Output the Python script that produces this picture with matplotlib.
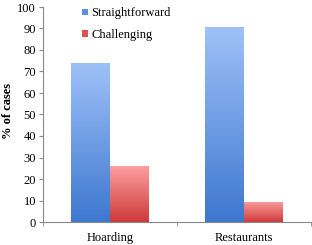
import matplotlib
matplotlib.use("Agg")
import matplotlib.pyplot as plt
import numpy as np
from matplotlib.colors import LinearSegmentedColormap
from matplotlib.patches import Patch

categories = ["Hoarding", "Restaurants"]
series_names = ["Straightforward", "Challenging"]
straightforward = [74, 90.5]
challenging = [26, 9.5]
yticks = [0, 10, 20, 30, 40, 50, 60, 70, 80, 90, 100]

plt.rcParams['font.family'] = ['Liberation Serif', 'DejaVu Serif']

fig = plt.figure(figsize=(3.12, 2.45), dpi=100)
ax = fig.add_axes([43/312, 23/245, 268/312, 215/245])

x = np.arange(len(categories))
w = 0.29
cmaps = [
    LinearSegmentedColormap.from_list("b", ["#3d78cf", "#9fc1f8"]),
    LinearSegmentedColormap.from_list("r", ["#cf3a3a", "#fb9e9e"]),
]
legend_colors = ["#5b8fe0", "#e05050"]
grad = np.linspace(0, 1, 256).reshape(-1, 1)
for i, (vals, cm) in enumerate(zip([straightforward, challenging], cmaps)):
    bars = ax.bar(x - w/2 + i*w, vals, w, color='none', edgecolor='none')
    for b in bars:
        x0, y0 = b.get_x(), b.get_y()
        im = ax.imshow(grad, cmap=cm, origin='lower', aspect='auto',
                       extent=[x0, x0 + b.get_width(), y0, y0 + b.get_height()],
                       zorder=2)
        im.set_clip_path(b)

ax.set_xlim(-0.5, 1.5)
ax.set_ylim(0, 100)
ax.set_yticks(yticks)
ax.set_xticks(x)
ax.set_xticklabels(categories, fontsize=9)
ax.set_xticks([-0.5, 0.5, 1.5], minor=True)
ax.tick_params(axis='x', which='major', length=0, pad=7)
ax.tick_params(axis='x', which='minor', length=3, color='#888888')
ax.tick_params(axis='y', labelsize=9, length=3, color='#888888', pad=2)
for s in ['top', 'right']:
    ax.spines[s].set_visible(False)
for s in ['left', 'bottom']:
    ax.spines[s].set_color('#888888')
    ax.spines[s].set_linewidth(0.8)
ax.set_ylabel("% of cases", fontsize=9, fontweight='bold')
ax.yaxis.set_label_coords(-0.11, 0.515)

handles = [Patch(facecolor=c, edgecolor='none') for c in legend_colors]
ax.legend(handles, series_names, loc='upper left', bbox_to_anchor=(0.11, 1.045),
          frameon=False, fontsize=9, handlelength=0.45, handleheight=0.45,
          handletextpad=0.25, labelspacing=0.75, borderpad=0.3)

fig.savefig("out.png", dpi=100)
